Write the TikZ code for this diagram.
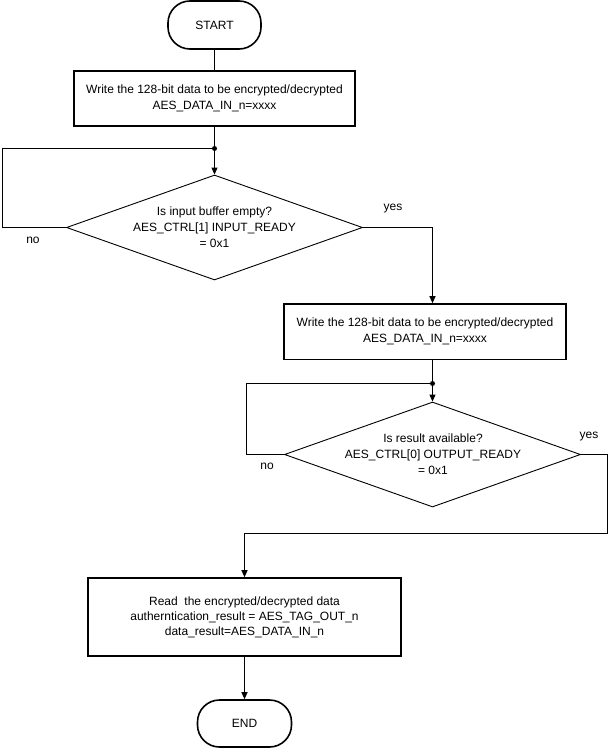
\documentclass[tikz,border=0pt]{standalone}
\usepackage{fontspec}
\setmainfont{Liberation Sans}
\usetikzlibrary{shapes.geometric,arrows.meta}
\begin{document}
\begin{tikzpicture}[x=1pt,y=-1pt,
  every node/.style={font=\fontsize{12}{16}\selectfont},
  procbox/.style={draw, line width=1.6pt, inner sep=0pt, align=center},
  term/.style={draw, line width=1.6pt, rounded corners=22pt, minimum width=93pt, minimum height=48pt, inner sep=0pt},
  dia/.style={draw, diamond, line width=0.9pt, minimum width=296pt, minimum height=105pt, inner sep=0pt},
  diatext/.style={align=center, inner sep=0pt},
  conn/.style={line width=1pt},
  arr/.style={conn, -{Triangle[length=7pt,width=6pt]}},
  dot/.style={circle, fill, inner sep=0pt, minimum size=5pt},
  lab/.style={inner sep=0pt}
]
\useasboundingbox (0,0) rectangle (610,749);

% nodes
\node[term] (start) at (214.5,25) {START};
\node[procbox, minimum width=281.5pt, minimum height=55pt] (b1) at (214.5,98.5)
  {Write the 128-bit data to be encrypted/decrypted\\AES\_DATA\_IN\_n=xxxx};
\node[dot] (dot1) at (214.5,148.5) {};
\node[dia] (d1) at (214.5,227.5) {};
\node[diatext] (t1) at (214.5,227) {Is input buffer empty?\\AES\_CTRL[1] INPUT\_READY\\= 0x1};
\node[procbox, minimum width=282pt, minimum height=55.5pt] (b2) at (425,331.75)
  {Write the 128-bit data to be encrypted/decrypted\\AES\_DATA\_IN\_n=xxxx};
\node[dot] (dot2) at (432.5,383.5) {};
\node[dia] (d2) at (432.5,454.5) {};
\node[diatext] (t2) at (433,454) {Is result available?\\AES\_CTRL[0] OUTPUT\_READY\\= 0x1};
\node[procbox, minimum width=313pt, minimum height=78pt, font=\fontsize{12}{15}\selectfont] (b3) at (244.5,617)
  {Read\ \ the encrypted/decrypted data\\autherntication\_result = AES\_TAG\_OUT\_n\\data\_result=AES\_DATA\_IN\_n};
\node[term, minimum width=94pt, minimum height=47pt] (end) at (244.5,723.5) {END};

% labels
\node[lab] (no1) at (33,240) {no};
\node[lab] (yes1) at (393,209) {yes};
\node[lab] (no2) at (267,466) {no};
\node[lab] (yes2) at (589,437) {yes};

% helper coordinates
\coordinate (l1) at (2.5,148.5);
\coordinate (l2) at (246.5,383.5);
\coordinate (c1) at (607.5,533.5);

% connectors
\draw[conn] (start) -- (b1);
\draw[conn] (b1.south -| dot1) -- (dot1.center);
\draw[arr] (dot1.center) -- (d1.north);
\draw[conn] (d1.west) -| (l1) -- (dot1.center);
\draw[arr] (d1.east) -| (d2.north |- b2.north);
\draw[conn] (d2.north |- b2.south) -- (dot2.center);
\draw[arr] (dot2.center) -- (d2.north);
\draw[conn] (d2.west) -| (l2) -- (dot2.center);
\draw[arr] (d2.east) -| (c1) -| (b3.north);
\draw[arr] (b3.south -| end) -- (end.north);
\end{tikzpicture}
\end{document}
